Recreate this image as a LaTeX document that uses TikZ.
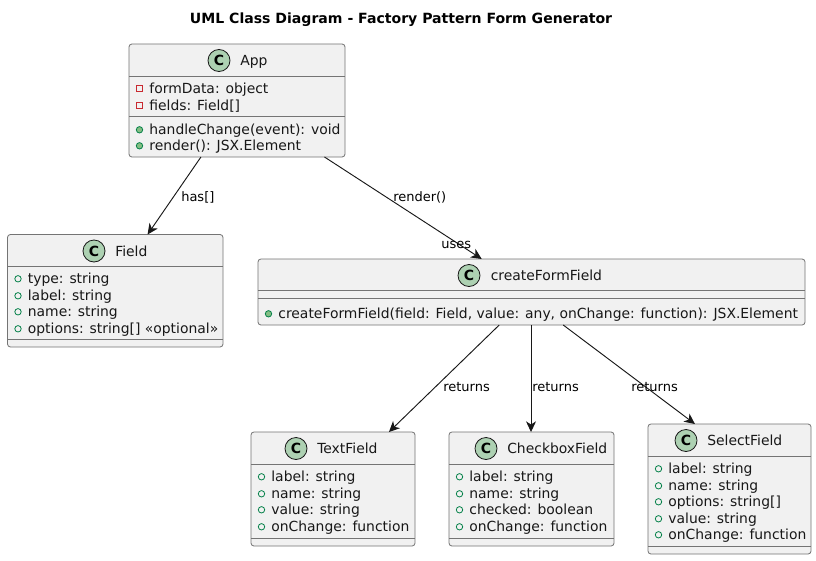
\documentclass[tikz,border=0pt]{standalone}
\usepackage{fontspec}
\setmainfont{DejaVu Sans}
\usetikzlibrary{arrows.meta,calc}
\definecolor{boxfill}{HTML}{F1F1F1}
\definecolor{boxline}{HTML}{181818}
\definecolor{spot}{HTML}{ADD1B2}
\definecolor{publine}{HTML}{038048}
\definecolor{pubfill}{HTML}{84BE84}
\definecolor{privline}{HTML}{C82930}
\tikzset{
  x=0.75pt,y=-0.75pt,
  classbox/.style={draw=boxline!60,fill=boxfill,line width=0.6pt,rounded corners=2.2pt,inner sep=0pt,outer sep=0pt},
  divider/.style={draw=boxline!60,line width=0.6pt},
  spotc/.style={circle,draw=boxline,fill=spot,line width=0.6pt,minimum size=16.5pt,inner sep=0pt,font=\bfseries\fontsize{10.5}{12}\selectfont,text=black},
  classname/.style={anchor=base west,inner sep=0pt,font=\fontsize{10.43}{12}\selectfont,text=boxline},
  membertext/.style={anchor=base west,inner sep=0pt,font=\fontsize{10.43}{12}\selectfont,text=boxline},
  pubattr/.style={circle,draw=publine,line width=0.6pt,minimum size=4.8pt,inner sep=0pt},
  pubmeth/.style={circle,draw=publine,fill=pubfill,line width=0.6pt,minimum size=4.8pt,inner sep=0pt},
  privattr/.style={rectangle,draw=privline,line width=0.6pt,minimum size=4.6pt,inner sep=0pt},
  rel/.style={draw=boxline,line width=0.7pt,-{Stealth[length=8pt,width=7.5pt,inset=2.4pt]}},
  rellabel/.style={anchor=base west,inner sep=0pt,font=\fontsize{9.75}{12}\selectfont,text=black},
}
% name, x1, y1, x2, y2, header bottom, divider, circle x, title x, title
\newcommand{\umlclass}[9]{%
  \node[classbox,minimum width=#4*0.75pt-#2*0.75pt,minimum height=#5*0.75pt-#3*0.75pt] (#1) at ({(#2+#4)/2},{(#3+#5)/2}) {};
  \draw[divider] (#2,#6) -- (#4,#6);
  \draw[divider] (#2,#7) -- (#4,#7);
  \node[spotc] (#1spot) at (#8,#3+16.5) {C};
  \umltitle{#1}{#3}{#9}}
\newcommand{\umltitle}[3]{\node[classname] (#1title) at (\umltitlex,#2+21.5) {#3};}
\newcommand{\umltitlex}{0}
% name, style, icon x, baseline y, text
\newcommand{\umlmember}[5]{%
  \node[#2] (#1icon) at (#3,#4-4.2) {};
  \node[membertext] (#1) at (#3+9.6,#4+0.6) {#5};}
\begin{document}
\begin{tikzpicture}
\useasboundingbox (0,0) rectangle (816,560);
\fill[white] (0,0) rectangle (816,560);
\node[anchor=base,inner sep=0pt,font=\bfseries\fontsize{10.55}{12}\selectfont] (diagtitle) at (401,23.8) {UML Class Diagram - Factory Pattern Form Generator};

% App
\renewcommand{\umltitlex}{240}
\umlclass{app}{129}{44}{345}{157}{76.5}{116}{219}{App}
\umlmember{appa}{privattr}{139.5}{93}{formData: object}
\umlmember{appb}{privattr}{139.5}{110}{fields: Field[]}
\umlmember{appc}{pubmeth}{139.5}{134}{handleChange(event): void}
\umlmember{appd}{pubmeth}{139.5}{150}{render(): JSX.Element}

% Field
\renewcommand{\umltitlex}{115}
\umlclass{field}{7.5}{234.5}{223}{347}{266.5}{339}{94}{Field}
\umlmember{fielda}{pubattr}{18}{283}{type: string}
\umlmember{fieldb}{pubattr}{18}{300}{label: string}
\umlmember{fieldc}{pubattr}{18}{316}{name: string}
\umlmember{fieldd}{pubattr}{18}{333}{options: string[] «optional»}

% createFormField
\renewcommand{\umltitlex}{490.5}
\umlclass{cff}{258}{259}{805}{325}{290.5}{298}{469}{createFormField}
\umlmember{cffa}{pubmeth}{268.5}{318}{createFormField(field: Field, value: any, onChange: function): JSX.Element}

% TextField
\renewcommand{\umltitlex}{317}
\umlclass{text}{251}{432}{415}{546}{464}{538}{296}{TextField}
\umlmember{texta}{pubattr}{261.5}{481}{label: string}
\umlmember{textb}{pubattr}{261.5}{498}{name: string}
\umlmember{textc}{pubattr}{261.5}{514}{value: string}
\umlmember{textd}{pubattr}{261.5}{531}{onChange: function}

% CheckboxField
\renewcommand{\umltitlex}{507}
\umlclass{check}{449}{432}{614}{546}{464}{538}{486}{CheckboxField}
\umlmember{checka}{pubattr}{459.5}{481}{label: string}
\umlmember{checkb}{pubattr}{459.5}{498}{name: string}
\umlmember{checkc}{pubattr}{459.5}{514}{checked: boolean}
\umlmember{checkd}{pubattr}{459.5}{531}{onChange: function}

% SelectField
\renewcommand{\umltitlex}{707}
\umlclass{select}{648}{424}{811}{554}{456}{546}{686}{SelectField}
\umlmember{selecta}{pubattr}{658.5}{473}{label: string}
\umlmember{selectb}{pubattr}{658.5}{490}{name: string}
\umlmember{selectc}{pubattr}{658.5}{506}{options: string[]}
\umlmember{selectd}{pubattr}{658.5}{523}{value: string}
\umlmember{selecte}{pubattr}{658.5}{539}{onChange: function}

% Relations
\draw[rel] ($(app.south west)!0.333!(app.south east)$) -- ($(field.north west)!0.65!(field.north east)$);
\draw[rel] ($(app.south west)!0.905!(app.south east)$) -- ($(cff.north west)!0.409!(cff.north east)$);
\draw[rel] ($(cff.south west)!0.441!(cff.south east)$) -- ($(text.north west)!0.841!(text.north east)$);
\coordinate (midout) at ($(cff.south west)!0.4991!(cff.south east)$);
\draw[rel] (midout) -- (midout |- check.north);
\draw[rel] ($(cff.south west)!0.558!(cff.south east)$) -- ($(select.north west)!0.288!(select.north east)$);

\node[rellabel] (lhas) at (181,201) {has[]};
\node[rellabel] (lrender) at (393,201) {render()};
\node[rellabel] (luses) at (441,248) {uses};
\node[rellabel] (lret1) at (443,391) {returns};
\node[rellabel] (lret2) at (532,391) {returns};
\node[rellabel] (lret3) at (631,391) {returns};
\end{tikzpicture}
\end{document}
